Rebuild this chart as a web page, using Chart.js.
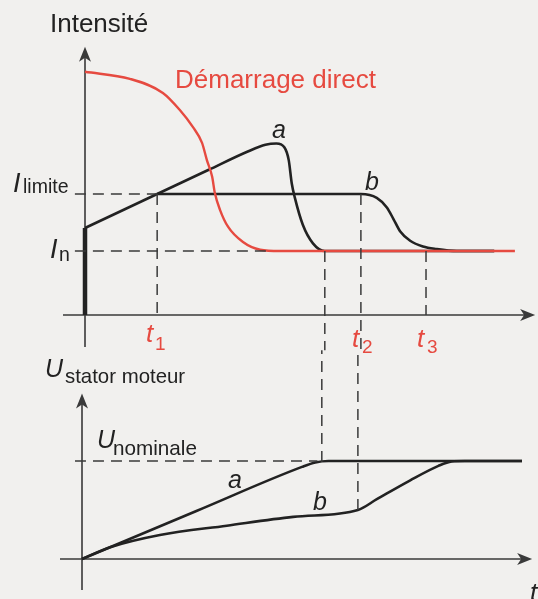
<!DOCTYPE html>
<html>
<head>
<meta charset="utf-8">
<script src="https://cdn.jsdelivr.net/npm/chart.js@4.4.1/dist/chart.umd.min.js"></script>
<style>
  html, body { margin: 0; padding: 0; background: #f1f0ee; }
  body { width: 538px; height: 599px; position: relative; overflow: hidden; }
  canvas { position: absolute; }
  #courant { left: 0; top: 0; }
  #tension { left: -3px; top: 340px; }
</style>
</head>
<body>
<canvas id="courant" width="538" height="360"></canvas>
<canvas id="tension" width="541" height="259"></canvas>
<script>
// ---- repères (temps en unités arbitraires, I et U rapportés aux valeurs nominales)
const T1 = 16.4, TA = 54.5, T2 = 62.7, T3 = 77.5;
const I_N = 1, I_LIMITE = 1.89, I_DEPART = 1.36, U_NOM = 1;

// démarrage direct
const directT = [0, 10.2, 17.7, 21.6, 24.5, 26.6, 27.7, 28.9, 29.5, 30.7, 32.5, 35.9, 39.8, 44.3, 97.7];
const directI = [3.80, 3.69, 3.47, 3.20, 2.94, 2.69, 2.42, 2.16, 1.91, 1.64, 1.38, 1.14, 1.02, 1.0, 1.0];

// rampe commune jusqu'à t1
const rampeT = [0, T1];
const rampeI = [I_DEPART, I_LIMITE];

// démarreur, réglage a (rampe de tension)
const aT = [16.4, 28, 37, 41, 43.5, 45.3, 46.3, 47, 47.7, 49.5, 51.8, 54.5, 93];
const aI = [1.89, 2.265, 2.555, 2.66, 2.68, 2.62, 2.42, 2.05, 1.83, 1.41, 1.12, 1.0, 1.0];

// réglage b (limitation de courant)
const bT = [16.4, 62.7, 66.3, 68.6, 70.1, 71.6, 73.9, 76.8, 79.9, 84.5, 93];
const bI = [1.89, 1.89, 1.83, 1.68, 1.50, 1.31, 1.16, 1.07, 1.03, 1.0, 1.0];

// tension stator
const uaT = [0, 26, 50, 53, 56, 100];
const uaU = [0, 0.49, 0.94, 0.985, 1.0, 1.0];
const ubT = [0, 6.4, 17.7, 32.9, 48, 62.7, 67, 74.5, 81, 84, 87, 100];
const ubU = [0, 0.12, 0.245, 0.34, 0.43, 0.5, 0.61, 0.8, 0.95, 0.995, 1.0, 1.0];

const FONT = '"Liberation Sans", Arial, Helvetica, sans-serif';
const NOIR = '#222222';
const ROUGE = '#e64a40';
const GRIS = '#3a3a3a';
const TIRETS = [11, 7];

function pts(xs, ys) {
    return xs.map((x, i) => ({ x: x, y: ys[i] }));
}

function courbe(data, color, width) {
    return { data, borderColor: color, borderWidth: width, pointRadius: 0,
             cubicInterpolationMode: 'monotone', fill: false };
}

function trait(data, color, width, dash) {
    return { data, borderColor: color, borderWidth: width, pointRadius: 0,
             borderDash: dash || [], tension: 0, fill: false };
}

function fleche(ctx, x, y, dx, dy) {
    const L = 15, W = 6, N = 4;
    const nx = -dy, ny = dx;
    ctx.beginPath();
    ctx.moveTo(x, y);
    ctx.lineTo(x - L * dx + W * nx, y - L * dy + W * ny);
    ctx.lineTo(x - (L - N) * dx, y - (L - N) * dy);
    ctx.lineTo(x - L * dx - W * nx, y - L * dy - W * ny);
    ctx.closePath();
    ctx.fill();
}

// axes fléchés qui se croisent en (0, 0)
const axesPlugin = {
    id: 'axes',
    beforeDatasetsDraw(chart, args, opts) {
        const ctx = chart.ctx, sx = chart.scales.x, sy = chart.scales.y;
        const ox = sx.getPixelForValue(0), oy = sy.getPixelForValue(0);
        const xa = sx.getPixelForValue(opts.tMin), xb = sx.getPixelForValue(opts.tMax);
        const ya = sy.getPixelForValue(opts.vMin), yb = sy.getPixelForValue(opts.vMax);
        ctx.save();
        ctx.strokeStyle = GRIS;
        ctx.fillStyle = GRIS;
        ctx.lineWidth = 1.6;
        ctx.beginPath();
        ctx.moveTo(xa, oy); ctx.lineTo(xb - 10, oy);
        ctx.moveTo(ox, ya); ctx.lineTo(ox, yb + 10);
        ctx.stroke();
        fleche(ctx, xb, oy, 1, 0);
        fleche(ctx, ox, yb, 0, -1);
        ctx.restore();
    }
};

// textes et indices
const textesPlugin = {
    id: 'textes',
    afterDraw(chart, args, opts) {
        const ctx = chart.ctx;
        ctx.save();
        ctx.textBaseline = 'alphabetic';
        ctx.textAlign = 'left';
        (opts.items || []).forEach(it => {
            ctx.font = (it.it ? 'italic ' : '') + it.size + 'px ' + FONT;
            ctx.fillStyle = it.c || NOIR;
            ctx.fillText(it.t, it.x, it.y);
        });
        ctx.restore();
    }
};

function options(yMin, yMax, padRight, axes, items) {
    return {
        responsive: false,
        animation: false,
        devicePixelRatio: 1,
        layout: { padding: { left: 63, right: padRight, top: 0, bottom: 0 } },
        scales: {
            x: { type: 'linear', min: -5, max: 102.95, display: false },
            y: { type: 'linear', min: yMin, max: yMax, display: false }
        },
        plugins: {
            legend: { display: false },
            tooltip: { enabled: false },
            axes: axes,
            textes: { items: items }
        }
    };
}

// ---- courant absorbé
new Chart(document.getElementById('courant'), {
    type: 'line',
    data: {
        datasets: [
            trait([{ x: -2.3, y: I_LIMITE }, { x: T1, y: I_LIMITE }], GRIS, 1.5, TIRETS),
            trait([{ x: -2.3, y: I_N }, { x: 41.6, y: I_N }], GRIS, 1.5, TIRETS),
            trait([{ x: T1, y: I_LIMITE }, { x: T1, y: 0 }], GRIS, 1.5, TIRETS),
            trait([{ x: TA, y: I_N }, { x: TA, y: -0.55 }], GRIS, 1.5, TIRETS),
            trait([{ x: T2, y: I_LIMITE }, { x: T2, y: -0.55 }], GRIS, 1.5, TIRETS),
            trait([{ x: T3, y: I_N }, { x: T3, y: 0 }], GRIS, 1.5, TIRETS),
            courbe(pts(directT, directI), ROUGE, 2.4),
            courbe(pts(bT, bI), NOIR, 2.6),
            courbe(pts(aT, aI), NOIR, 2.6),
            trait(pts(rampeT, rampeI), NOIR, 2.6),
            trait([{ x: 0, y: 0 }, { x: 0, y: I_DEPART }], NOIR, 4.5)
        ]
    },
    options: options(-0.703, 4.922, 0,
        { tMin: -5, tMax: 102.3, vMin: -0.5, vMax: 4.19 },
        [
            { t: 'Intensité', x: 50, y: 32, size: 26 },
            { t: 'Démarrage direct', x: 175, y: 88, size: 26, c: ROUGE },
            { t: 'a', x: 272, y: 138, size: 25, it: true },
            { t: 'b', x: 365, y: 190, size: 25, it: true },
            { t: 'I', x: 13, y: 192, size: 27, it: true },
            { t: 'limite', x: 23, y: 193, size: 19.5 },
            { t: 'I', x: 50, y: 258, size: 27, it: true },
            { t: 'n', x: 59, y: 261, size: 19.5 },
            { t: 't', x: 146, y: 342, size: 26, it: true, c: ROUGE },
            { t: '1', x: 155, y: 350, size: 19, c: ROUGE },
            { t: 't', x: 352, y: 347, size: 26, it: true, c: ROUGE },
            { t: '2', x: 362, y: 353, size: 19, c: ROUGE },
            { t: 't', x: 417, y: 347, size: 26, it: true, c: ROUGE },
            { t: '3', x: 427, y: 353, size: 19, c: ROUGE }
        ]),
    plugins: [axesPlugin, textesPlugin]
});

// ---- tension aux bornes du stator
new Chart(document.getElementById('tension'), {
    type: 'line',
    data: {
        datasets: [
            trait([{ x: -1.6, y: U_NOM }, { x: TA - 1, y: U_NOM }], GRIS, 1.5, TIRETS),
            trait([{ x: TA, y: 0.99 }, { x: TA, y: 2.13 }], GRIS, 1.5, TIRETS),
            trait([{ x: T2, y: 0.5 }, { x: T2, y: 2.13 }], GRIS, 1.5, TIRETS),
            courbe(pts(ubT, ubU), NOIR, 2.6),
            courbe(pts(uaT, uaU), NOIR, 2.6)
        ]
    },
    options: options(-0.408, 2.2347, 3,
        { tMin: -5, tMax: 102.3, vMin: -0.316, vMax: 1.69 },
        [
            { t: 'U', x: 48, y: 37, size: 25, it: true },
            { t: 'stator moteur', x: 68, y: 43, size: 20.4 },
            { t: 'U', x: 100, y: 108, size: 25, it: true },
            { t: 'nominale', x: 116, y: 115, size: 20.7 },
            { t: 'a', x: 231, y: 148, size: 25, it: true },
            { t: 'b', x: 316, y: 170, size: 25, it: true },
            { t: 't', x: 533, y: 261, size: 26, it: true }
        ]),
    plugins: [axesPlugin, textesPlugin]
});
</script>
</body>
</html>
